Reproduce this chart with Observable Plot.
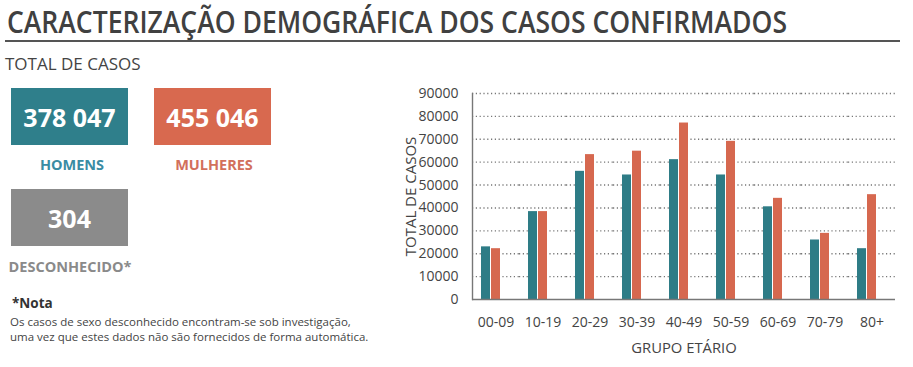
<!DOCTYPE html>
<html>
<head>
<meta charset="utf-8">
<script src="https://cdn.jsdelivr.net/npm/d3@7"></script>
<script src="https://cdn.jsdelivr.net/npm/@observablehq/plot@0.6"></script>
<style>
  html, body { margin: 0; padding: 0; background: #fff; }
  #page { position: relative; width: 913px; height: 367px; overflow: hidden; font-family: "Open Sans", sans-serif; color: #444; }
  .abs { position: absolute; }
  .box { position: absolute; width: 117px; height: 57px; color: #fff; font-weight: 700; font-size: 25px; display: flex; align-items: center; justify-content: center; }
  .lbl { position: absolute; width: 160px; text-align: center; font-weight: 700; font-size: 14.5px; line-height: 20px; }
  #chart { position: absolute; left: 390px; top: 80px; }
</style>
</head>
<body>
<div id="page">
  <svg class="abs" style="left:0;top:0" width="913" height="46">
    <text id="title" x="7" y="33" font-family="Open Sans" font-weight="600" font-size="30" fill="#404040" textLength="780" lengthAdjust="spacingAndGlyphs"></text>
    <line x1="5" x2="900" y1="41" y2="41" stroke="#555" stroke-width="2"></line>
  </svg>
  <div class="abs" id="total" style="left:5px;top:53px;font-size:17px;line-height:22px;color:#444"></div>
  <div class="box" id="boxH" style="left:11px;top:88px;background:#2f7f8b"></div>
  <div class="box" id="boxM" style="left:154px;top:88px;background:#d8694f"></div>
  <div class="lbl" id="lblH" style="left:-8px;top:155px;color:#3a8ca3"></div>
  <div class="lbl" id="lblM" style="left:134px;top:155px;color:#d2705c"></div>
  <div class="box" id="boxD" style="left:11px;top:189px;background:#8b8b8b"></div>
  <div class="lbl" id="lblD" style="left:-10px;top:257px;color:#8a8a8a"></div>
  <div class="abs" id="nota" style="left:12px;top:293px;font-size:13.5px;font-weight:700;line-height:20px;color:#333"></div>
  <div class="abs" id="nota1" style="left:10px;top:314px;font-size:11.5px;line-height:15px;color:#444;white-space:nowrap"></div>
  <div class="abs" id="nota2" style="left:10px;top:329px;font-size:11.5px;line-height:15px;color:#444;white-space:nowrap"></div>
  <div id="chart"></div>
</div>
<script>
// ---- data ----
const titleText = "CARACTERIZAÇÃO DEMOGRÁFICA DOS CASOS CONFIRMADOS";
const totalLabel = "TOTAL DE CASOS";
const totals = ["378 047", "455 046", "304"];
const totalLabels = ["HOMENS", "MULHERES", "DESCONHECIDO*"];
const noteTitle = "*Nota";
const noteLines = [
  "Os casos de sexo desconhecido encontram-se sob investigação,",
  "uma vez que estes dados não são fornecidos de forma automática."
];
const groups = ["00-09", "10-19", "20-29", "30-39", "40-49", "50-59", "60-69", "70-79", "80+"];
const homens = [23000, 38400, 56000, 54400, 61100, 54400, 40500, 26000, 22200];
const mulheres = [22200, 38400, 63300, 64800, 77100, 69100, 44200, 28900, 45800];
const seriesNames = ["Homens", "Mulheres", "Desconhecido"];
const seriesColors = ["#2e7c86", "#d6684f", "#8b8b8b"];
const yTicks = [0, 10000, 20000, 30000, 40000, 50000, 60000, 70000, 80000, 90000];
const xTitle = "GRUPO ETÁRIO";
const yTitle = "TOTAL DE CASOS";

// ---- text ----
document.getElementById("title").textContent = titleText;
document.getElementById("total").textContent = totalLabel;
document.getElementById("boxH").textContent = totals[0];
document.getElementById("boxM").textContent = totals[1];
document.getElementById("boxD").textContent = totals[2];
document.getElementById("lblH").textContent = totalLabels[0];
document.getElementById("lblM").textContent = totalLabels[1];
document.getElementById("lblD").textContent = totalLabels[2];
document.getElementById("nota").textContent = noteTitle;
document.getElementById("nota1").textContent = noteLines[0];
document.getElementById("nota2").textContent = noteLines[1];

// ---- chart ----
const rows = groups.flatMap((g, i) => [
  {g, s: seriesNames[0], v: homens[i]},
  {g, s: seriesNames[1], v: mulheres[i]}
]);

const chart = Plot.plot({
  width: 523,
  height: 280,
  marginLeft: 79,
  marginRight: 15,
  marginTop: 13,
  marginBottom: 61,
  style: {fontFamily: "Open Sans", fontSize: "14px", color: "#444", background: "transparent"},
  fx: {domain: groups, padding: 0},
  x: {domain: seriesNames, paddingInner: 0.09, paddingOuter: 0.71, axis: null},
  y: {domain: [0, 90000]},
  color: {domain: seriesNames, range: seriesColors},
  marks: [
    Plot.ruleY(yTicks.slice(1), {stroke: "#777", strokeWidth: 1.4, strokeDasharray: "1.2,2.6"}),
    Plot.barY(rows, {fx: "g", x: "s", y: "v", fill: "s"}),
    Plot.ruleY([0], {stroke: "#777", strokeWidth: 1.6}),
    Plot.frame({anchor: "left", facetAnchor: "left", stroke: "#777", strokeWidth: 1.4}),
    Plot.axisY({ticks: yTicks, tickSize: 0, tickPadding: 14, tickFormat: d3.format("d"),
      label: null, fontSize: 14}),
    Plot.axisY({ticks: [], label: yTitle, labelAnchor: "center", labelArrow: "none",
      labelOffset: 67, fontSize: 15}),
    Plot.axisFx({anchor: "bottom", tickSize: 0, tickPadding: 18, label: null, fontSize: 14}),
    Plot.axisFx({anchor: "bottom", ticks: [], label: xTitle, labelAnchor: "center",
      labelArrow: "none", labelOffset: 53, fontSize: 14.8})
  ]
});
document.getElementById("chart").appendChild(chart);
</script>
</body>
</html>
